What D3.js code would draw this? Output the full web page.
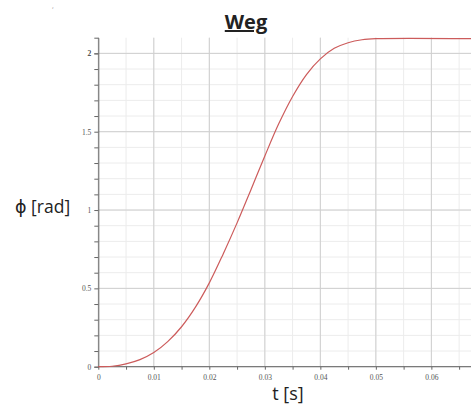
<!DOCTYPE html>
<html>
<head>
<meta charset="utf-8">
<script src="https://cdn.jsdelivr.net/npm/d3@7"></script>
<style>
  body { margin: 0; background: #fff; }
</style>
</head>
<body>
<div id="chart"></div>
<script>
// Data: time [s] and angle [rad]
const tValues = [0, 0.0025, 0.005, 0.0075, 0.01, 0.0125, 0.015, 0.0175, 0.02, 0.0225,
  0.025, 0.0275, 0.03, 0.0325, 0.035, 0.0375, 0.04, 0.0425, 0.045, 0.0475, 0.05, 0.0675];
const phiValues = [0, 0.003, 0.018, 0.045, 0.09, 0.16, 0.255, 0.38, 0.535, 0.72,
  0.918, 1.13, 1.345, 1.55, 1.725, 1.865, 1.965, 2.032, 2.068, 2.087, 2.094, 2.094];

// Tick labels
const xTickLabels = [0, 0.01, 0.02, 0.03, 0.04, 0.05, 0.06];
const yTickLabels = [0, 0.5, 1, 1.5, 2];

const width = 471;
const height = 405;

const svg = d3.select("#chart")
  .append("svg")
  .attr("width", width)
  .attr("height", height);

// Scales
const xScale = d3.scaleLinear().domain([0, 0.0675]).range([98.3, 473]);
const yScale = d3.scaleLinear().domain([0, 2.1]).range([366.7, 37.7]);

// Minor grid positions
const xMinor = d3.range(0, 0.0675, 0.005);
const yMinor = d3.range(0, 2.1, 0.1);

// Grid: minor lines
svg.append("g")
  .selectAll("line")
  .data(xMinor)
  .enter()
  .append("line")
  .attr("x1", (d) => xScale(d))
  .attr("x2", (d) => xScale(d))
  .attr("y1", yScale(0))
  .attr("y2", yScale(2.1))
  .attr("stroke", "#ececec");

svg.append("g")
  .selectAll("line")
  .data(yMinor)
  .enter()
  .append("line")
  .attr("x1", xScale(0))
  .attr("x2", width)
  .attr("y1", (d) => yScale(d))
  .attr("y2", (d) => yScale(d))
  .attr("stroke", "#ececec");

// Grid: major lines
svg.append("g")
  .selectAll("line")
  .data(xTickLabels)
  .enter()
  .append("line")
  .attr("x1", (d) => xScale(d))
  .attr("x2", (d) => xScale(d))
  .attr("y1", yScale(0))
  .attr("y2", yScale(2.1))
  .attr("stroke", "#cfcfcf");

svg.append("g")
  .selectAll("line")
  .data(yTickLabels)
  .enter()
  .append("line")
  .attr("x1", xScale(0))
  .attr("x2", width)
  .attr("y1", (d) => yScale(d))
  .attr("y2", (d) => yScale(d))
  .attr("stroke", "#cfcfcf");

// Axes
const xAxis = d3.axisBottom(xScale)
  .tickValues(xMinor)
  .tickSize(3)
  .tickPadding(5)
  .tickFormat((d) => {
    const r = Math.round(d * 1000) / 1000;
    return xTickLabels.includes(r) ? String(r) : "";
  });

const yAxis = d3.axisLeft(yScale)
  .tickValues(yMinor.concat([2]))
  .tickSize(4)
  .tickPadding(3)
  .tickFormat((d) => {
    const r = Math.round(d * 10) / 10;
    return yTickLabels.includes(r) ? String(r) : "";
  });

const gx = svg.append("g")
  .attr("transform", `translate(0, ${yScale(0)})`)
  .call(xAxis);
gx.select(".domain").attr("d", `M${xScale(0)},0H${width}`);

const gy = svg.append("g")
  .attr("transform", `translate(${xScale(0)}, 0)`)
  .call(yAxis);

svg.selectAll(".domain").attr("stroke", "#666");
svg.selectAll(".tick line").attr("stroke", "#666");
svg.selectAll(".tick text")
  .attr("fill", "#555")
  .style("font-family", "'Liberation Serif', serif")
  .style("font-size", "7.5px");

// Curve
const line = d3.line()
  .x((d, i) => xScale(tValues[i]))
  .y((d) => yScale(d))
  .curve(d3.curveCatmullRom.alpha(0.5));

svg.append("path")
  .datum(phiValues)
  .attr("fill", "none")
  .attr("stroke", "#cc5b5b")
  .attr("stroke-width", 1.2)
  .attr("d", line);

// Title
svg.append("text")
  .attr("x", 246)
  .attr("y", 29)
  .attr("text-anchor", "middle")
  .style("font-family", "'Open Sans', sans-serif")
  .style("font-weight", "bold")
  .style("font-size", "20px")
  .style("text-decoration", "underline")
  .attr("fill", "#222")
  .text("Weg");

// Axis labels
svg.append("text")
  .attr("x", 288)
  .attr("y", 400)
  .attr("text-anchor", "middle")
  .style("font-family", "'Open Sans', sans-serif")
  .style("font-size", "18px")
  .attr("fill", "#222")
  .text("t [s]");

svg.append("text")
  .attr("x", 15)
  .attr("y", 213)
  .style("font-family", "'Open Sans', 'DejaVu Sans', sans-serif")
  .style("font-size", "17.5px")
  .attr("fill", "#222")
  .text("ϕ [rad]");

// Small stray mark at the top left of the original
svg.append("text")
  .attr("x", 52)
  .attr("y", 8)
  .style("font-family", "'Open Sans', sans-serif")
  .style("font-size", "7px")
  .attr("fill", "#999")
  .text(",");
</script>
</body>
</html>
